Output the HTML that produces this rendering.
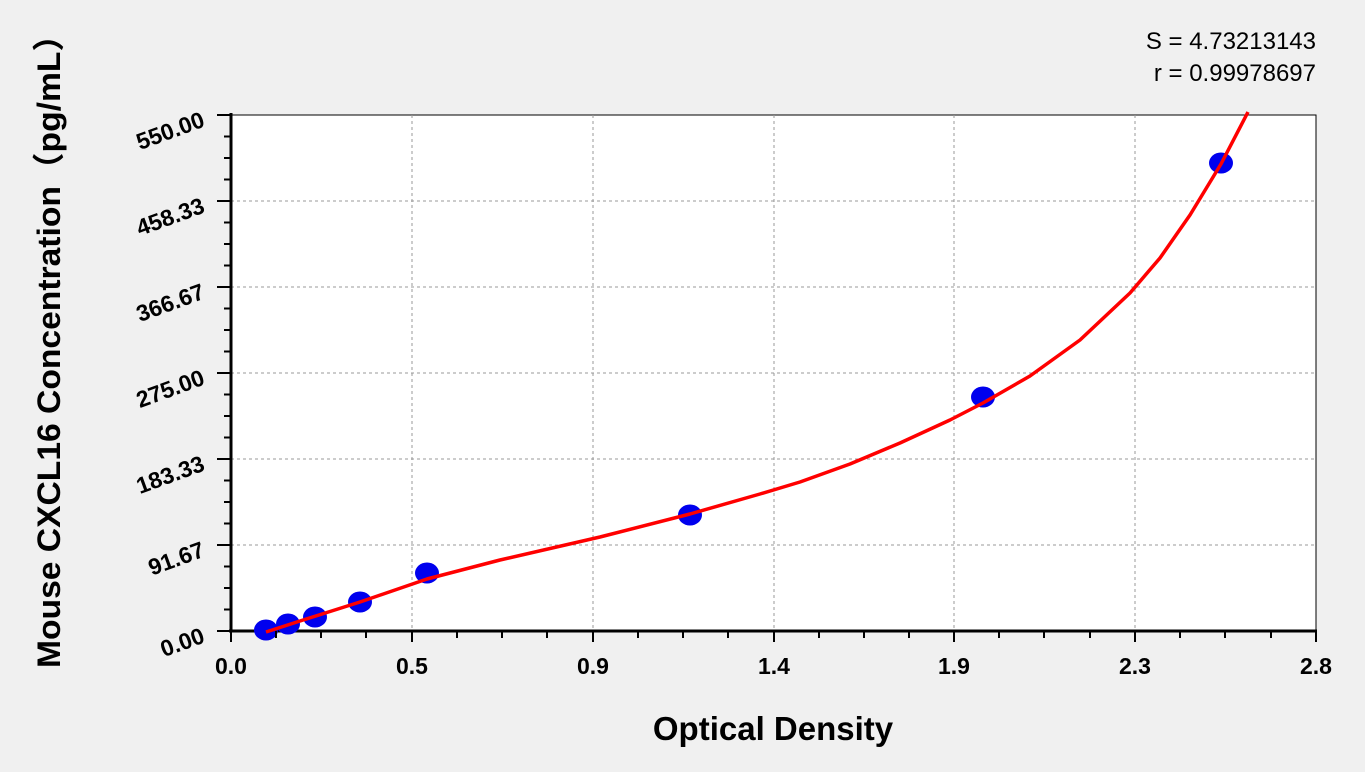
<!DOCTYPE html>
<html><head><style>body{margin:0;background:#f0f0f0}</style></head><body>
<svg width="1365" height="767" xmlns="http://www.w3.org/2000/svg" font-family="Liberation Sans, sans-serif">
<rect width="1365" height="767" fill="#f0f0f0"/>
<rect x="231" y="115" width="1085" height="516" fill="#fff" stroke="#000" stroke-width="1"/>
<g stroke="#999" stroke-dasharray="3,3" stroke-width="1">
<line x1="412" y1="115" x2="412" y2="631"/><line x1="593" y1="115" x2="593" y2="631"/><line x1="774" y1="115" x2="774" y2="631"/><line x1="954" y1="115" x2="954" y2="631"/><line x1="1135" y1="115" x2="1135" y2="631"/>
<line x1="231" y1="545" x2="1316" y2="545"/><line x1="231" y1="459" x2="1316" y2="459"/><line x1="231" y1="373" x2="1316" y2="373"/><line x1="231" y1="287" x2="1316" y2="287"/><line x1="231" y1="201" x2="1316" y2="201"/>
</g>
<g stroke="#000" stroke-width="3">
<line x1="231" y1="113" x2="231" y2="632"/><line x1="229" y1="631" x2="1317" y2="631"/>
</g>
<g fill="#000" font-size="23" font-weight="bold" text-anchor="middle">
<text x="231" y="674">0.0</text><text x="412" y="674">0.5</text><text x="593" y="674">0.9</text><text x="774" y="674">1.4</text><text x="954" y="674">1.9</text><text x="1135" y="674">2.3</text><text x="1316" y="674">2.8</text>
</g>
<g fill="#000" font-size="23" font-weight="bold" text-anchor="end">
<text transform="translate(206,642) rotate(-20)">0.00</text>
<text transform="translate(206,556) rotate(-20)">91.67</text>
<text transform="translate(206,470) rotate(-20)">183.33</text>
<text transform="translate(206,384) rotate(-20)">275.00</text>
<text transform="translate(206,298) rotate(-20)">366.67</text>
<text transform="translate(206,212) rotate(-20)">458.33</text>
<text transform="translate(206,126) rotate(-20)">550.00</text>
</g>
<text x="773" y="740" font-size="33" font-weight="bold" text-anchor="middle">Optical Density</text>
<text transform="translate(60,343) rotate(-90)" font-size="32" font-weight="bold" text-anchor="middle" textLength="650" lengthAdjust="spacingAndGlyphs" font-family="Liberation Sans, Noto Sans CJK SC, sans-serif">Mouse CXCL16 Concentration（pg/mL）</text>
<text x="1316" y="49" font-size="24" text-anchor="end">S = 4.73213143</text>
<text x="1316" y="81" font-size="24" text-anchor="end">r = 0.99978697</text>
<g fill="#0000ee">
<ellipse cx="266" cy="630" rx="12" ry="10.5"/><ellipse cx="288" cy="624" rx="12" ry="10.5"/><ellipse cx="315" cy="617" rx="12" ry="10.5"/><ellipse cx="360" cy="602" rx="12" ry="10.5"/><ellipse cx="427" cy="573" rx="12" ry="10.5"/><ellipse cx="690" cy="515" rx="12" ry="10.5"/><ellipse cx="983" cy="397" rx="12" ry="10.5"/><ellipse cx="1221" cy="163" rx="12" ry="10.5"/>
</g>
<path d="M266,632 L300,621 L360,602 L427,579 L500,560 L600,537 L690,514 L760,494 L800,482 L850,464 L900,443 L950,420 L983,403 L1030,376 L1080,340 L1130,293 L1160,258 L1190,215 L1221,164 L1248,112" fill="none" stroke="#f00" stroke-width="3.5" stroke-linejoin="round"/>
<g stroke="#000" stroke-width="2">
<line x1="231" y1="631" x2="231" y2="642"/><line x1="276" y1="631" x2="276" y2="638"/><line x1="321" y1="631" x2="321" y2="638"/><line x1="366" y1="631" x2="366" y2="638"/><line x1="412" y1="631" x2="412" y2="642"/><line x1="457" y1="631" x2="457" y2="638"/><line x1="502" y1="631" x2="502" y2="638"/><line x1="547" y1="631" x2="547" y2="638"/><line x1="593" y1="631" x2="593" y2="642"/><line x1="638" y1="631" x2="638" y2="638"/><line x1="683" y1="631" x2="683" y2="638"/><line x1="728" y1="631" x2="728" y2="638"/><line x1="774" y1="631" x2="774" y2="642"/><line x1="819" y1="631" x2="819" y2="638"/><line x1="864" y1="631" x2="864" y2="638"/><line x1="909" y1="631" x2="909" y2="638"/><line x1="954" y1="631" x2="954" y2="642"/><line x1="999" y1="631" x2="999" y2="638"/><line x1="1044" y1="631" x2="1044" y2="638"/><line x1="1090" y1="631" x2="1090" y2="638"/><line x1="1135" y1="631" x2="1135" y2="642"/><line x1="1180" y1="631" x2="1180" y2="638"/><line x1="1225" y1="631" x2="1225" y2="638"/><line x1="1271" y1="631" x2="1271" y2="638"/><line x1="1316" y1="631" x2="1316" y2="642"/>
<line x1="217" y1="631" x2="231" y2="631"/><line x1="224" y1="609.5" x2="231" y2="609.5"/><line x1="224" y1="588" x2="231" y2="588"/><line x1="224" y1="566.5" x2="231" y2="566.5"/><line x1="217" y1="545" x2="231" y2="545"/><line x1="224" y1="523.5" x2="231" y2="523.5"/><line x1="224" y1="502" x2="231" y2="502"/><line x1="224" y1="480.5" x2="231" y2="480.5"/><line x1="217" y1="459" x2="231" y2="459"/><line x1="224" y1="437.5" x2="231" y2="437.5"/><line x1="224" y1="416" x2="231" y2="416"/><line x1="224" y1="394.5" x2="231" y2="394.5"/><line x1="217" y1="373" x2="231" y2="373"/><line x1="224" y1="351.5" x2="231" y2="351.5"/><line x1="224" y1="330" x2="231" y2="330"/><line x1="224" y1="308.5" x2="231" y2="308.5"/><line x1="217" y1="287" x2="231" y2="287"/><line x1="224" y1="265.5" x2="231" y2="265.5"/><line x1="224" y1="244" x2="231" y2="244"/><line x1="224" y1="222.5" x2="231" y2="222.5"/><line x1="217" y1="201" x2="231" y2="201"/><line x1="224" y1="179.5" x2="231" y2="179.5"/><line x1="224" y1="158" x2="231" y2="158"/><line x1="224" y1="136.5" x2="231" y2="136.5"/><line x1="217" y1="115" x2="231" y2="115"/>
</g>
</svg>
</body></html>
